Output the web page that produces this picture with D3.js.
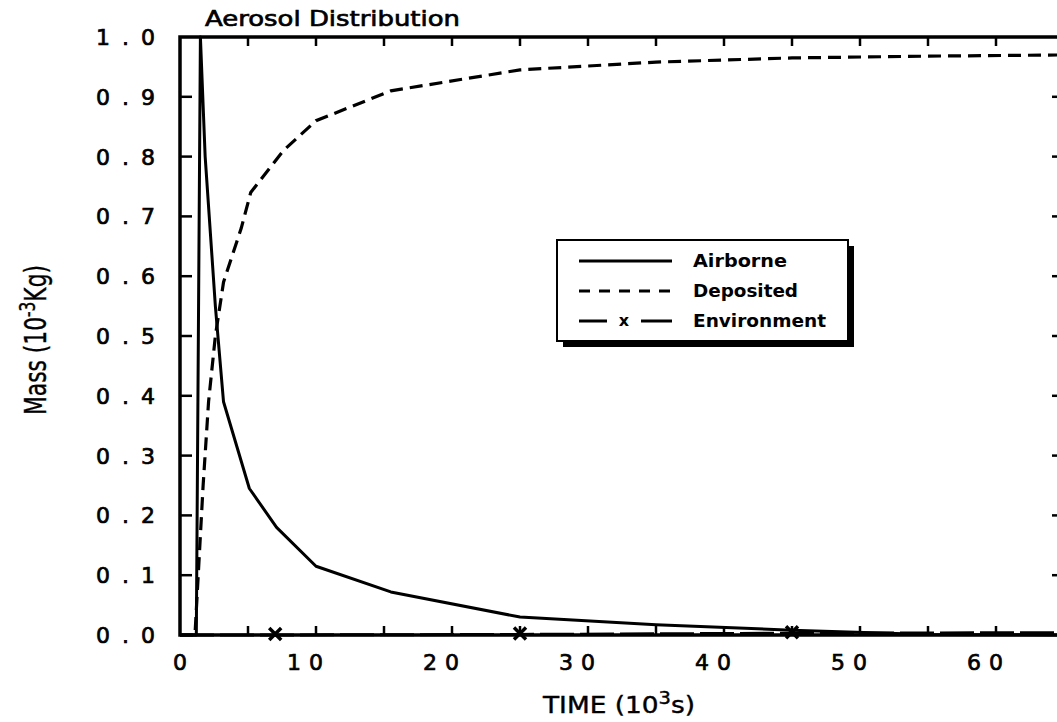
<!DOCTYPE html>
<html>
<head>
<meta charset="utf-8">
<script src="https://cdn.jsdelivr.net/npm/d3@7"></script>
<style>
  body { margin: 0; background: #fff; }
  svg { display: block; }
  text { font-family: "DejaVu Sans", sans-serif; fill: #000; }
</style>
</head>
<body>
<svg width="1057" height="722"></svg>
<script>
// Data (time in 10^3 s, mass in 10^-3 kg)
const airTime = [0, 1.2, 1.5, 1.85, 2.6, 3.2, 5.1, 7.1, 10, 15.5, 25, 35, 45, 55, 65];
const airMass = [0, 0, 1.0, 0.8, 0.55, 0.39, 0.245, 0.18, 0.115, 0.072, 0.03, 0.017, 0.008, 0.001, 0];

const depTime = [0, 1.1, 1.7, 2.1, 2.6, 3.2, 4.5, 5.2, 7.6, 10, 15.5, 25, 35, 45, 55, 65];
const depMass = [0, 0, 0.25, 0.39, 0.5, 0.59, 0.68, 0.74, 0.81, 0.86, 0.91, 0.945, 0.958, 0.965, 0.968, 0.97];

const envTime = [0, 7, 25, 45, 65];
const envMass = [0, 0, 0.001, 0.003, 0.004];
const envMarks = [7, 25, 45];

const xTicks = [0, 10, 20, 30, 40, 50, 60];
const xMinor = [5, 10, 15, 20, 25, 30, 35, 40, 45, 50, 55, 60];
const yTicks = [0, 0.1, 0.2, 0.3, 0.4, 0.5, 0.6, 0.7, 0.8, 0.9, 1.0];

const legendNames = ["Airborne", "Deposited", "Environment"];

const svg = d3.select("svg");

// Scales
const x = d3.scaleLinear().domain([0, 65]).range([180, 1064]);
const y = d3.scaleLinear().domain([0, 1]).range([635, 37]);

// Frame
svg.append("rect")
    .attr("x", x(0))
    .attr("y", y(1))
    .attr("width", x(65) - x(0))
    .attr("height", y(0) - y(1))
    .attr("fill", "none")
    .attr("stroke", "#000")
    .attr("stroke-width", 3.5);

// Tick marks on all four sides, pointing inward
const tk = svg.append("g").attr("stroke", "#000").attr("stroke-width", 2.5);
xMinor.forEach((t) => {
    tk.append("line").attr("x1", x(t)).attr("x2", x(t)).attr("y1", y(0)).attr("y2", y(0) - 9);
    tk.append("line").attr("x1", x(t)).attr("x2", x(t)).attr("y1", y(1)).attr("y2", y(1) + 9);
});
yTicks.slice(1, -1).forEach((v) => {
    tk.append("line").attr("x1", x(0)).attr("x2", x(0) + 12).attr("y1", y(v)).attr("y2", y(v));
    tk.append("line").attr("x1", x(65)).attr("x2", x(65) - 12).attr("y1", y(v)).attr("y2", y(v));
});

// Tick labels (slightly thickened to match the plotter pen)
const fmt = d3.format(".1f");
yTicks.forEach((v) => {
    svg.append("text")
        .attr("x", 155 + 12)
        .attr("y", y(v) + 8)
        .attr("text-anchor", "end")
        .attr("stroke", "#000")
        .attr("stroke-width", 0.7)
        .style("font-size", "22px")
        .style("letter-spacing", "12px")
        .text(fmt(v));
});
xTicks.forEach((t) => {
    svg.append("text")
        .attr("x", x(t) + 7 + 8)
        .attr("y", 670)
        .attr("text-anchor", "end")
        .attr("stroke", "#000")
        .attr("stroke-width", 0.7)
        .style("font-size", "22px")
        .style("letter-spacing", "8px")
        .text(t);
});

// Title and axis titles
svg.append("text")
    .attr("x", 205)
    .attr("y", 26)
    .attr("textLength", 255)
    .attr("lengthAdjust", "spacingAndGlyphs")
    .attr("stroke", "#000")
    .attr("stroke-width", 0.7)
    .style("font-size", "22px")
    .text("Aerosol Distribution");

const xt = svg.append("text")
    .attr("x", 543)
    .attr("y", 713)
    .attr("textLength", 152)
    .attr("lengthAdjust", "spacingAndGlyphs")
    .attr("stroke", "#000")
    .attr("stroke-width", 0.4)
    .style("font-size", "23px");
xt.append("tspan").text("TIME  (10");
xt.append("tspan").attr("dy", -9).style("font-size", "17px").text("3");
xt.append("tspan").attr("dy", 9).text("s)");

const yt = svg.append("text")
    .attr("transform", "translate(46,415) rotate(-90)")
    .attr("textLength", 150)
    .attr("lengthAdjust", "spacingAndGlyphs")
    .attr("stroke", "#000")
    .attr("stroke-width", 0.4)
    .style("font-size", "30px");
yt.append("tspan").text("Mass  (10");
yt.append("tspan").attr("dy", -11).style("font-size", "21px").text("-3");
yt.append("tspan").attr("dy", 11).text("Kg)");

// Curves
const line = d3.line().x((d) => x(d[0])).y((d) => y(d[1]));

svg.append("path")
    .datum(d3.zip(airTime, airMass))
    .attr("d", line)
    .attr("fill", "none")
    .attr("stroke", "#000")
    .attr("stroke-width", 3)
    .attr("stroke-linejoin", "round");

svg.append("path")
    .datum(d3.zip(depTime, depMass))
    .attr("d", line)
    .attr("fill", "none")
    .attr("stroke", "#000")
    .attr("stroke-width", 3.2)
    .attr("stroke-dasharray", "13,7");

svg.append("path")
    .datum(d3.zip(envTime, envMass))
    .attr("d", line)
    .attr("fill", "none")
    .attr("stroke", "#000")
    .attr("stroke-width", 3)
    .attr("stroke-dasharray", "34,6");

// "x" markers on the environment curve
const cross = (cx, cy, r) => `M${cx - r},${cy - r}L${cx + r},${cy + r}M${cx - r},${cy + r}L${cx + r},${cy - r}`;
const envAt = d3.scaleLinear().domain(envTime).range(envMass);
envMarks.forEach((t) => {
    svg.append("path")
        .attr("d", cross(x(t), y(envAt(t)) - 1, 6))
        .attr("stroke", "#000")
        .attr("stroke-width", 3.5);
});

// Legend with drop shadow
const lg = svg.append("g");
lg.append("rect")
    .attr("x", 563).attr("y", 246).attr("width", 291).attr("height", 101)
    .attr("fill", "#000");
lg.append("rect")
    .attr("x", 557).attr("y", 240).attr("width", 291).attr("height", 101)
    .attr("fill", "#fff")
    .attr("stroke", "#000")
    .attr("stroke-width", 2);

const rowY = [261, 291, 321];
const nameLen = [94, 105, 133];
lg.append("line").attr("x1", 579).attr("x2", 672).attr("y1", rowY[0]).attr("y2", rowY[0])
    .attr("stroke", "#000").attr("stroke-width", 3);
lg.append("line").attr("x1", 579).attr("x2", 672).attr("y1", rowY[1]).attr("y2", rowY[1])
    .attr("stroke", "#000").attr("stroke-width", 3).attr("stroke-dasharray", "11,9");
lg.append("line").attr("x1", 579).attr("x2", 607).attr("y1", rowY[2]).attr("y2", rowY[2])
    .attr("stroke", "#000").attr("stroke-width", 3);
lg.append("line").attr("x1", 641).attr("x2", 672).attr("y1", rowY[2]).attr("y2", rowY[2])
    .attr("stroke", "#000").attr("stroke-width", 3);
lg.append("text")
    .attr("x", 624).attr("y", rowY[2] + 5)
    .attr("text-anchor", "middle")
    .style("font-size", "16px")
    .style("font-weight", "bold")
    .text("x");

legendNames.forEach((n, i) => {
    lg.append("text")
        .attr("x", 693)
        .attr("y", rowY[i] + 6)
        .attr("textLength", nameLen[i])
        .attr("lengthAdjust", "spacingAndGlyphs")
        .style("font-size", "18px")
        .style("font-weight", "bold")
        .text(n);
});
</script>
</body>
</html>
